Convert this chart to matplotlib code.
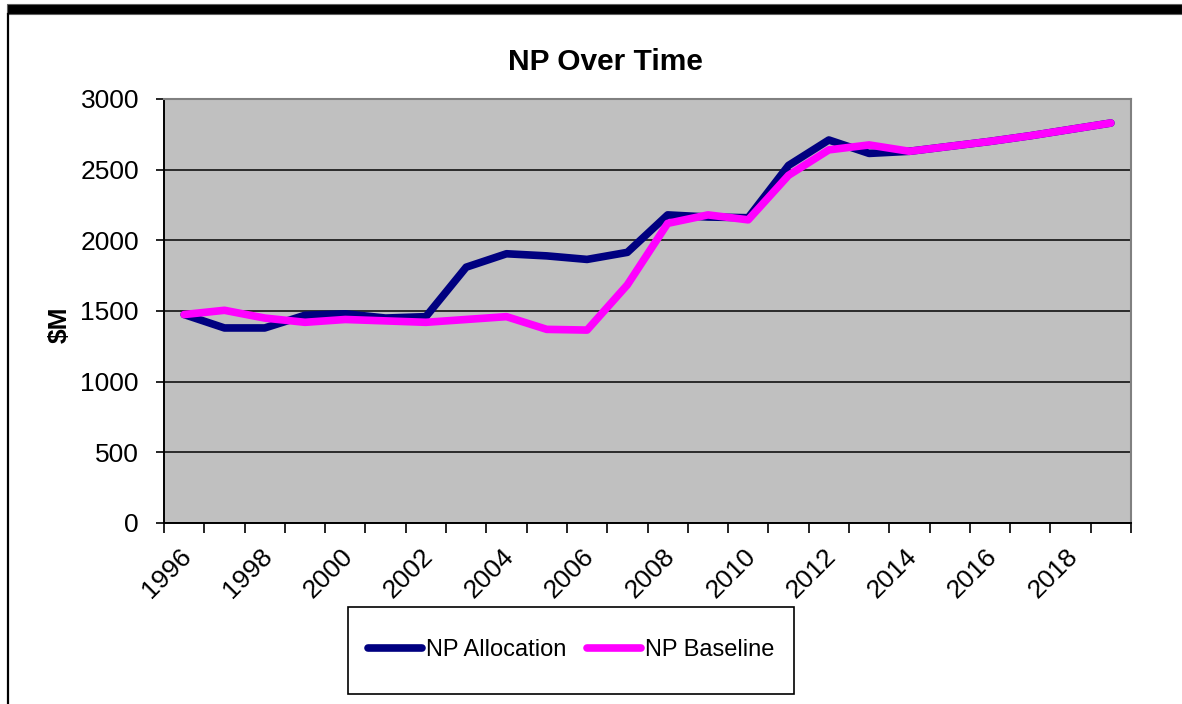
import matplotlib
matplotlib.use("Agg")
import matplotlib.pyplot as plt
import matplotlib.transforms as mtransforms
from matplotlib.patches import Rectangle
from matplotlib.lines import Line2D

years = list(range(1996, 2020))
np_allocation = [1475, 1380, 1380, 1470, 1480, 1450, 1460, 1810, 1905, 1890,
                 1865, 1915, 2180, 2165, 2160, 2530, 2710, 2615, 2630, 2665,
                 2700, 2740, 2785, 2830]
np_baseline = [1475, 1505, 1450, 1420, 1440, 1430, 1420, 1440, 1460, 1370,
               1365, 1685, 2120, 2180, 2145, 2460, 2640, 2675, 2630, 2665,
               2700, 2740, 2785, 2830]
y_ticks = [0, 500, 1000, 1500, 2000, 2500, 3000]
title = "NP Over Time"
y_label = "$M"
series_names = ["NP Allocation", "NP Baseline"]

plt.rcParams['font.family'] = ['Liberation Sans', 'DejaVu Sans']

W, H = 1182, 704
fig = plt.figure(figsize=(W / 100, H / 100), dpi=100)
fig.patch.set_facecolor('white')

# outer frame
fig.patches.append(Rectangle((7 / W, 1 - 14 / H), 1 - 7 / W, 10 / H, transform=fig.transFigure,
                             facecolor='black', edgecolor='#606060', linewidth=0.8, zorder=0))
fig.add_artist(Line2D([7.5 / W, 7.5 / W], [0, 1 - 14 / H], transform=fig.transFigure,
                      color='black', linewidth=1.6))

L, R, T, B = 164, 1131, 99, 523
ax = fig.add_axes([L / W, 1 - B / H, (R - L) / W, (B - T) / H])
ax.set_facecolor('#C0C0C0')

x = list(range(len(years)))
ax.plot(x, np_allocation, color='#000080', linewidth=5.5, solid_capstyle='round',
        solid_joinstyle='round', label=series_names[0], zorder=3)
ax.plot(x, np_baseline, color='#FF00FF', linewidth=5.5, solid_capstyle='round',
        solid_joinstyle='round', label=series_names[1], zorder=4)

ax.set_xlim(-0.5, len(years) - 0.5)
ax.set_ylim(0, 3000)
ax.set_yticks(y_ticks)
ax.set_yticklabels([str(v) for v in y_ticks], fontsize=19)
ax.yaxis.grid(True, color='#111111', linewidth=1.2)
ax.set_axisbelow(True)
ax.tick_params(axis='y', length=6, width=1.2, pad=12, direction='out')

ax.set_xticks([i - 0.5 for i in range(len(years) + 1)])
ax.set_xticklabels([])
ax.tick_params(axis='x', which='major', length=7, width=1.2, direction='out')
ax.set_xticks(x[::2], minor=True)
ax.set_xticklabels([str(y) for y in years[::2]], minor=True, fontsize=19,
                   rotation=45, ha='right', va='top', rotation_mode='anchor')
ax.tick_params(axis='x', which='minor', length=0, pad=15)
shift = mtransforms.ScaledTranslation(-5 / 100, 0, fig.dpi_scale_trans)
for lbl in ax.get_xticklabels(minor=True):
    lbl.set_transform(lbl.get_transform() + shift)

for s in ['top', 'right']:
    ax.spines[s].set_color('#808080')
    ax.spines[s].set_linewidth(1.5)
for s in ['left', 'bottom']:
    ax.spines[s].set_color('black')
    ax.spines[s].set_linewidth(1.4)

fig.text(605 / W, 1 - 62 / H, title, ha='center', va='center', fontsize=21.5, fontweight='bold')
fig.text(60 / W, 1 - 325 / H, y_label, ha='center', va='center', fontsize=19,
         fontweight='bold', rotation=90)

# legend box
lx0, lx1, ly0, ly1 = 348, 794, 607, 694
fig.patches.append(Rectangle((lx0 / W, 1 - ly1 / H), (lx1 - lx0) / W, (ly1 - ly0) / H,
                             transform=fig.transFigure, facecolor='white', edgecolor='black',
                             linewidth=1.2, zorder=1))
handles, labels = ax.get_legend_handles_labels()
leg = fig.legend(handles, labels, loc='center', ncol=2,
                 bbox_to_anchor=((lx0 + lx1) / 2 / W, 1 - (ly0 + ly1) / 2 / H),
                 frameon=False, fontsize=17, handlelength=2.3, handletextpad=0.15,
                 columnspacing=0.9)
leg.set_zorder(2)

fig.savefig('out.png', dpi=100)
